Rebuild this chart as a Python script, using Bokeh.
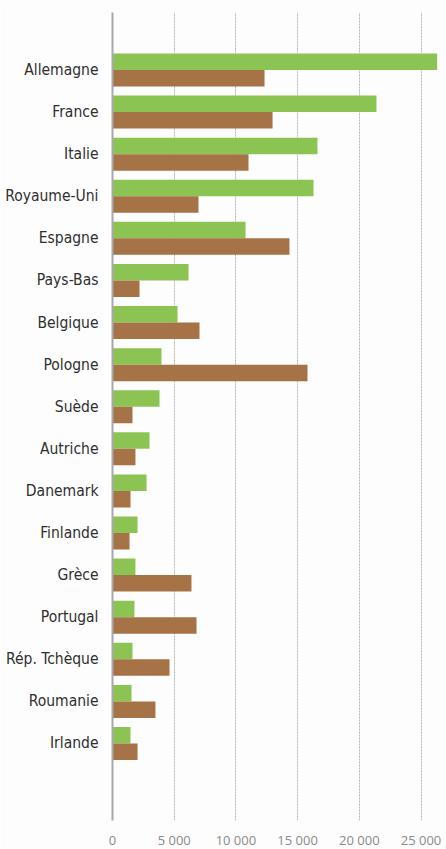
from bokeh.plotting import figure
from bokeh.models import ColumnDataSource, FixedTicker, Range1d
from bokeh.transform import dodge
from bokeh.embed import file_html
from bokeh.resources import INLINE

countries = ["Allemagne", "France", "Italie", "Royaume-Uni", "Espagne", "Pays-Bas",
             "Belgique", "Pologne", "Suède", "Autriche", "Danemark", "Finlande",
             "Grèce", "Portugal", "Rép. Tchèque", "Roumanie", "Irlande"]
green_values = [26310, 21390, 16610, 16290, 10780, 6160, 5270, 3970, 3810, 3000,
                2760, 2030, 1860, 1780, 1620, 1540, 1460]
brown_values = [12320, 12970, 11020, 6970, 14340, 2190, 7050, 15800, 1620, 1860,
                1460, 1380, 6400, 6810, 4620, 3480, 2030]
x_ticks = [0, 5000, 10000, 15000, 20000, 25000]
x_tick_labels = ["0", "5 000", "10 000", "15 000", "20 000", "25 000"]

n = len(countries)
pos = [n - i for i in range(n)]
src = ColumnDataSource(dict(pos=pos, country=countries, green=green_values, brown=brown_values))

p = figure(frame_width=334, frame_height=808, output_backend="svg", toolbar_location=None,
           x_range=Range1d(0, 27066), y_range=Range1d(-0.83, n + 1.366),
           min_border_left=112, min_border_right=0, min_border_top=12, min_border_bottom=20)
p.outline_line_color = None
p.background_fill_color = "#fdfdfd"
p.border_fill_color = "#fdfdfd"

p.hbar(y=dodge("pos", 0.196, range=p.y_range), right="green", left=0, height=0.392,
       source=src, fill_color="#8cc453", line_color=None)
p.hbar(y=dodge("pos", -0.196, range=p.y_range), right="brown", left=0, height=0.392,
       source=src, fill_color="#a57346", line_color=None)

# x axis
p.xaxis.ticker = FixedTicker(ticks=x_ticks)
p.xaxis.major_label_overrides = {t: l for t, l in zip(x_ticks, x_tick_labels)}
p.xaxis.axis_line_color = None
p.xaxis.major_tick_line_color = None
p.xaxis.major_tick_out = 0
p.xaxis.major_tick_in = 0
p.xaxis.minor_tick_line_color = None
p.xaxis.major_label_standoff = 10
p.xaxis.major_label_text_font = "Open Sans"
p.xaxis.major_label_text_font_size = "13px"
p.xaxis.major_label_text_color = "#8a8a8a"

# y axis
p.yaxis.ticker = FixedTicker(ticks=pos)
p.yaxis.major_label_overrides = {k: c for k, c in zip(pos, countries)}
p.yaxis.axis_line_color = "#a8a8a8"
p.yaxis.axis_line_width = 2
p.yaxis.major_tick_line_color = None
p.yaxis.major_tick_out = 0
p.yaxis.major_tick_in = 0
p.yaxis.minor_tick_line_color = None
p.yaxis.major_label_standoff = 14
p.yaxis.major_label_text_font = "DejaVu Sans Condensed, Roboto"
p.yaxis.major_label_text_font_size = "15.5px"
p.yaxis.major_label_text_color = "#2f2f2f"

p.xgrid.ticker = FixedTicker(ticks=x_ticks[1:])
p.xgrid.grid_line_color = "#b5b5b5"
p.xgrid.grid_line_dash = "2 1"
p.xgrid.grid_line_width = 1
p.ygrid.grid_line_color = None

open("out.html", "w").write(file_html(p, INLINE))
